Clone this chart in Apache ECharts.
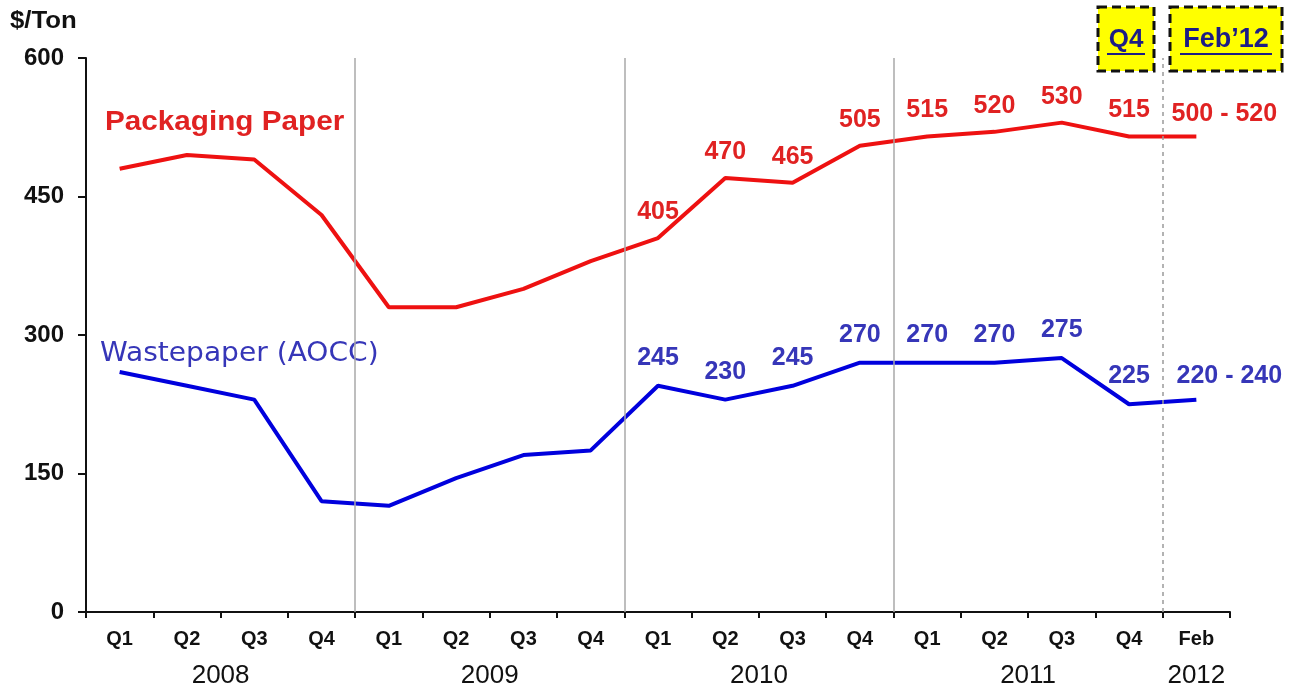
<!DOCTYPE html>
<html>
<head>
<meta charset="utf-8">
<script src="https://cdn.jsdelivr.net/npm/echarts@6/dist/echarts.min.js"></script>
<style>
  html, body { margin: 0; padding: 0; background: #fff; }
  #chart { width: 1293px; height: 690px; }
</style>
</head>
<body>
<div id="chart"></div>
<script>
// Periods on the x axis (quarters 2008-2011, then February 2012)
const periods = ['Q1','Q2','Q3','Q4','Q1','Q2','Q3','Q4','Q1','Q2','Q3','Q4','Q1','Q2','Q3','Q4','Feb'];
// Years and how many periods each one covers
const years = ['2008','2009','2010','2011','2012'];
const yearSpans = [4, 4, 4, 4, 1];

// Prices in $/Ton
const packagingPaper = [480, 495, 490, 430, 330, 330, 350, 380, 405, 470, 465, 505, 515, 520, 530, 515, 515];
const packagingLabels = ['', '', '', '', '', '', '', '', '405', '470', '465', '505', '515', '520', '530', '515', '500 - 520'];
const wastepaper = [260, 245, 230, 120, 115, 145, 170, 175, 245, 230, 245, 270, 270, 270, 275, 225, 230];
const wastepaperLabels = ['', '', '', '', '', '', '', '', '245', '230', '245', '270', '270', '270', '275', '225', '220 - 240'];

const yTicks = [0, 150, 300, 450, 600];

const RED = '#ee1111';
const RED_TEXT = '#e02222';
const BLUE = '#0000dd';
const BLUE_TEXT = '#3636b8';
const FONT = '"Liberation Sans", Arial, sans-serif';

// year label centres and boundaries (in period units)
const yearCenters = [];
const yearBounds = [];
let acc = 0;
yearSpans.forEach((s, i) => {
  yearCenters.push(acc + s / 2);
  acc += s;
  if (i < yearSpans.length - 1) yearBounds.push(acc);
});

function buildData(values, labels, lastOffset) {
  return values.map((v, i) => {
    const item = { value: v };
    if (labels[i]) {
      item.label = { show: true, formatter: labels[i] };
      if (i === values.length - 1) item.label.offset = [lastOffset, 4];
    }
    return item;
  });
}

const chart = echarts.init(document.getElementById('chart'), null, { renderer: 'canvas' });

const boundaryLines = yearBounds.map((b, i) => ({
  xAxis: b,
  lineStyle: i === yearBounds.length - 1
    ? { color: '#9a9a9a', width: 1.5, type: [4, 4] }
    : { color: '#a8a8a8', width: 1.5, type: 'solid' }
}));

chart.setOption({
  animation: false,
  backgroundColor: '#ffffff',
  grid: { left: 86, right: 63, top: 58, bottom: 78, containLabel: false },
  xAxis: [
    {
      type: 'category',
      data: periods,
      boundaryGap: true,
      axisLine: { lineStyle: { color: '#111', width: 2 } },
      axisTick: { show: true, length: 6, lineStyle: { color: '#111', width: 2 } },
      axisLabel: { interval: 0, margin: 17, color: '#111', fontFamily: FONT, fontWeight: 'bold', fontSize: 20 },
      splitLine: { show: false }
    },
    {
      type: 'value',
      min: 0,
      max: periods.length,
      position: 'bottom',
      axisLine: { show: false },
      axisTick: { show: false },
      splitLine: { show: false },
      axisLabel: {
        show: true,
        customValues: yearCenters,
        margin: 51,
        color: '#111',
        fontFamily: FONT,
        fontSize: 26,
        formatter: (v) => {
          const idx = yearCenters.indexOf(v);
          return idx >= 0 ? years[idx] : '';
        }
      }
    }
  ],
  yAxis: {
    type: 'value',
    min: 0,
    max: 600,
    interval: 150,
    axisLine: { show: true, lineStyle: { color: '#111', width: 2 } },
    axisTick: { show: true, length: 8, lineStyle: { color: '#111', width: 2 } },
    axisLabel: {
      margin: 22, color: '#111', fontFamily: FONT, fontWeight: 'bold', fontSize: 24,
      formatter: (v) => (yTicks.indexOf(v) >= 0 ? String(v) : '')
    },
    splitLine: { show: false }
  },
  series: [
    {
      name: 'Year boundaries',
      type: 'line',
      xAxisIndex: 1,
      yAxisIndex: 0,
      data: [],
      silent: true,
      markLine: {
        silent: true,
        symbol: ['none', 'none'],
        label: { show: false },
        data: boundaryLines
      },
      z: 1
    },
    {
      name: 'Packaging Paper',
      type: 'line',
      data: buildData(packagingPaper, packagingLabels, 28),
      symbol: 'circle',
      symbolSize: 0,
      lineStyle: { color: RED, width: 4 },
      itemStyle: { color: RED },
      label: {
        show: false, position: 'top', distance: 13,
        color: RED_TEXT, fontFamily: FONT, fontWeight: 'bold', fontSize: 25, lineHeight: 26
      },
      z: 3
    },
    {
      name: 'Wastepaper (AOCC)',
      type: 'line',
      data: buildData(wastepaper, wastepaperLabels, 33),
      symbol: 'circle',
      symbolSize: 0,
      lineStyle: { color: BLUE, width: 4 },
      itemStyle: { color: BLUE },
      label: {
        show: false, position: 'top', distance: 15,
        color: BLUE_TEXT, fontFamily: FONT, fontWeight: 'bold', fontSize: 25, lineHeight: 26
      },
      z: 3
    }
  ],
  graphic: [
    {
      type: 'text', x: 10, y: 10, scaleX: 1.12,
      style: { text: '$/Ton', fill: '#111', font: 'bold 23px ' + FONT }
    },
    {
      type: 'text', x: 105, y: 108, scaleX: 1.06,
      style: { text: 'Packaging Paper', fill: RED_TEXT, font: 'bold 28px ' + FONT }
    },
    {
      type: 'text', x: 100, y: 340, scaleX: 1.04,
      style: { text: 'Wastepaper (AOCC)', fill: BLUE_TEXT, font: '27px "DejaVu Sans", Verdana, sans-serif' }
    },
    // highlighted period boxes
    {
      type: 'rect', shape: { x: 1098, y: 7, width: 56, height: 64 },
      style: { fill: '#ffff00', stroke: '#111', lineWidth: 3, lineDash: [9, 5] }, z: 10
    },
    {
      type: 'rect', shape: { x: 1170, y: 7, width: 112, height: 64 },
      style: { fill: '#ffff00', stroke: '#111', lineWidth: 3, lineDash: [9, 5] }, z: 10
    },
    {
      type: 'text', x: 1126, y: 40, z: 11,
      style: { text: 'Q4', fill: '#1c1c86', font: 'bold 26px ' + FONT, textAlign: 'center', textVerticalAlign: 'middle' }
    },
    {
      type: 'line', shape: { x1: 1107, y1: 54, x2: 1145, y2: 54 }, z: 11,
      style: { stroke: '#1c1c86', lineWidth: 2 }
    },
    {
      type: 'text', x: 1226, y: 40, z: 11,
      style: { text: 'Feb\u201912', fill: '#1c1c86', font: 'bold 27px ' + FONT, textAlign: 'center', textVerticalAlign: 'middle' }
    },
    {
      type: 'line', shape: { x1: 1180, y1: 54, x2: 1272, y2: 54 }, z: 11,
      style: { stroke: '#1c1c86', lineWidth: 2 }
    }
  ]
});
</script>
</body>
</html>
